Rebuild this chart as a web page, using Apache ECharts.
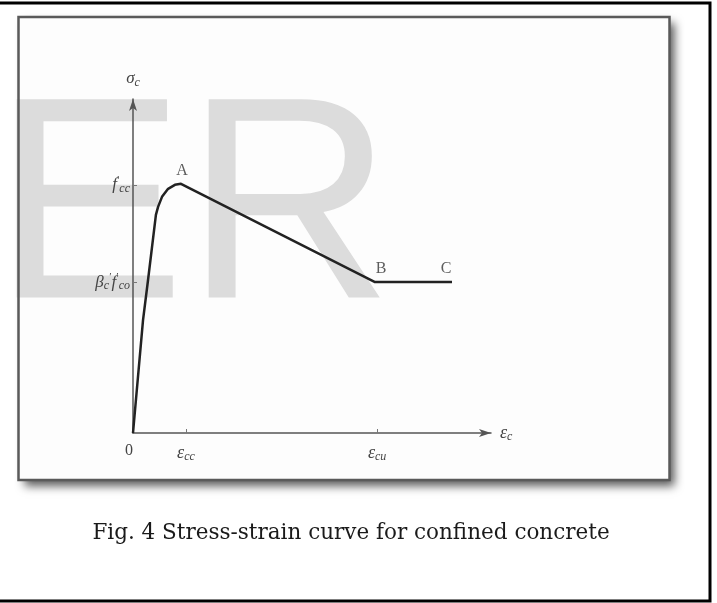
<!DOCTYPE html>
<html>
<head>
<meta charset="utf-8">
<title>Stress-strain curve for confined concrete</title>
<script src="https://cdn.jsdelivr.net/npm/echarts@6/dist/echarts.min.js"></script>
<style>
  body { margin: 0; background: #fff; }
  #chart { width: 717px; height: 603px; }
</style>
</head>
<body>
<div id="chart"></div>
<script>
// curve (strain and stress in relative units)
const strain = [0, 0.028, 0.042, 0.064, 0.070, 0.081, 0.098, 0.117, 0.134, 0.676, 0.891];
const stress = [0, 0.338, 0.458, 0.653, 0.677, 0.707, 0.731, 0.743, 0.746, 0.452, 0.452];

// named points A, B, C (index into the curve)
const pointNames = ['A', 'B', 'C'];
const pointIndex = [8, 9, 10];

// ticks on the axes
const xTickValues = [0, 0.148, 0.682];
const xTickLabels = ['{z|0}', '{e|ε}{s|cc}', '{e|ε}{s|cu}'];
const yTickValues = [0.743, 0.452];
const yTickLabels = ['{f|f}{p|′}{s|cc}', '{f|β}{s|c}{p|′}{f|f}{p|′}{s|co}'];

const caption = 'Fig. 4 Stress-strain curve for confined concrete';

const mathRich = {
  e: { fontFamily: 'Liberation Serif', fontStyle: 'italic', fontSize: 18, color: '#444' },
  f: { fontFamily: 'Liberation Serif', fontStyle: 'italic', fontSize: 17, color: '#444' },
  s: { fontFamily: 'Liberation Serif', fontStyle: 'italic', fontSize: 12, color: '#444', padding: [8, 0, 0, 0] },
  p: { fontFamily: 'Liberation Serif', fontSize: 11, color: '#444', padding: [0, 0, 10, 0] },
  z: { fontFamily: 'Liberation Serif', fontSize: 16, color: '#444', padding: [0, 8, 0, 0] }
};

const chart = echarts.init(document.getElementById('chart'));

const curve = strain.map((x, i) => [x, stress[i]]);
const labelOffset = { A: [1, 0], B: [6, 0], C: [-6, 0] };
const named = pointNames.map((n, i) => ({
  name: n,
  value: curve[pointIndex[i]],
  label: { offset: labelOffset[n] }
}));

const option = {
  backgroundColor: '#fff',
  animation: false,
  grid: { left: 133, right: 226, top: 99, bottom: 170 },
  xAxis: {
    type: 'value',
    min: 0,
    max: 1,
    z: 5,
    name: '{e|ε}{s|c}',
    nameLocation: 'end',
    nameGap: 9,
    nameTextStyle: { rich: mathRich },
    splitLine: { show: false },
    axisLine: {
      lineStyle: { color: '#555', width: 1.5 },
      symbol: ['none', 'arrow'],
      symbolSize: [6, 12]
    },
    axisTick: {
      customValues: xTickValues.slice(1),
      inside: true,
      length: 4,
      lineStyle: { color: '#777' }
    },
    axisLabel: {
      customValues: xTickValues,
      margin: 10,
      formatter: v => xTickLabels[xTickValues.indexOf(v)],
      rich: mathRich
    }
  },
  yAxis: {
    type: 'value',
    min: 0,
    max: 1,
    z: 5,
    name: '{f|σ}{s|c}',
    nameLocation: 'end',
    nameGap: 10,
    nameTextStyle: { rich: mathRich },
    splitLine: { show: false },
    axisLine: {
      show: true,
      lineStyle: { color: '#555', width: 1.5 },
      symbol: ['none', 'arrow'],
      symbolSize: [6, 12]
    },
    axisTick: {
      show: true,
      customValues: yTickValues,
      inside: true,
      length: 4,
      lineStyle: { color: '#777' }
    },
    axisLabel: {
      customValues: yTickValues,
      margin: 3,
      formatter: v => yTickLabels[yTickValues.indexOf(v)],
      rich: mathRich
    }
  },
  series: [
    {
      type: 'line',
      z: 6,
      data: curve,
      symbol: 'none',
      showSymbol: false,
      lineStyle: { color: '#222', width: 2.5, join: 'round' }
    },
    {
      type: 'scatter',
      z: 6,
      data: named,
      symbolSize: 1,
      itemStyle: { color: 'rgba(0,0,0,0)' },
      label: {
        show: true,
        position: 'top',
        distance: 5,
        formatter: '{b}',
        fontFamily: 'Liberation Serif',
        fontSize: 16,
        color: '#333'
      }
    }
  ],
  graphic: [
    // outer border
    {
      type: 'rect', z: 0,
      shape: { x: -3, y: 3, width: 713, height: 598 },
      style: { fill: '#fff', stroke: '#000', lineWidth: 3 }
    },
    // panel fill with drop shadow
    {
      type: 'rect', z: 1,
      shape: { x: 18.5, y: 17, width: 651, height: 463 },
      style: {
        fill: '#fdfdfd',
        shadowBlur: 9, shadowOffsetX: 5, shadowOffsetY: 6, shadowColor: 'rgba(0,0,0,0.65)'
      }
    },
    // watermark
    {
      type: 'text', z: 2,
      x: -7, y: 218,
      style: {
        text: 'ER',
        font: '288px "Liberation Sans"',
        fill: '#dcdcdc',
        verticalAlign: 'middle'
      }
    },
    // panel frame
    {
      type: 'rect', z: 3,
      shape: { x: 18.5, y: 17, width: 651, height: 463 },
      style: { fill: 'none', stroke: '#5a5a5a', lineWidth: 2.5 }
    },
    {
      type: 'text', z: 3,
      x: 351, y: 533.5,
      style: {
        text: caption,
        font: '21.5px "DejaVu Serif"',
        fill: '#1a1a1a',
        align: 'center',
        verticalAlign: 'middle'
      }
    }
  ]
};

chart.setOption(option);
</script>
</body>
</html>
